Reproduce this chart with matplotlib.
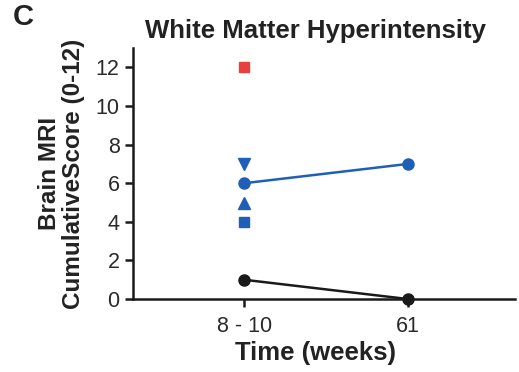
import matplotlib
matplotlib.use("Agg")
import matplotlib.pyplot as plt

plt.rcParams['font.family'] = ['Liberation Sans', 'DejaVu Sans']

# data
time_labels = ["8 - 10", "61"]
blue_line = [6, 7]
black_line = [1, 0]
red_square = 12
blue_down_tri = 7
blue_up_tri = 5
blue_square = 4

blue = "#1f5fb8"
red = "#e8403a"
black = "#1a1a1a"

fig = plt.figure(figsize=(5.19, 3.72), dpi=100)
ax = fig.add_axes([0.256, 0.196, 0.736, 0.675])

x = [0, 1]
ax.plot(x, blue_line, color=blue, marker="o", markersize=8, linewidth=1.8, zorder=3)
ax.plot(x, black_line, color=black, marker="o", markersize=8, linewidth=1.8, zorder=3, clip_on=False)
ax.plot([0], [red_square], "s", color=red, markersize=7)
ax.plot([0], [blue_down_tri], "v", color=blue, markersize=8)
ax.plot([0], [blue_up_tri], "^", color=blue, markersize=8)
ax.plot([0], [blue_square], "s", color=blue, markersize=7)

ax.set_xlim(-0.68, 1.65)
ax.set_ylim(0, 13)
ax.set_yticks(range(0, 13, 2))
ax.set_xticks(x)
ax.set_xticklabels(time_labels)

for s in ["top", "right"]:
    ax.spines[s].set_visible(False)
for s in ["left", "bottom"]:
    ax.spines[s].set_linewidth(1.8)
    ax.spines[s].set_color(black)
ax.tick_params(axis="both", labelsize=15.5, width=1.8, length=6, color=black, labelcolor="#2a2a2a")
ax.tick_params(axis="x", pad=6)

ax.set_xlabel("Time (weeks)", fontsize=18.5, fontweight="bold", color="#222222", labelpad=0)
ax.xaxis.set_label_coords(0.478, -0.165)
ax.set_ylabel("Brain MRI\nCumulativeScore (0-12)", fontsize=17.5, fontweight="bold",
              color="#222222", labelpad=8, linespacing=1.05)

fig.text(0.607, 0.918, "White Matter Hyperintensity", ha="center", va="center",
         fontsize=18.5, fontweight="bold", color="#222222")
fig.text(0.045, 0.955, "C", ha="center", va="center", fontsize=21, fontweight="bold", color="#222222")

fig.savefig("out.png", dpi=100)
